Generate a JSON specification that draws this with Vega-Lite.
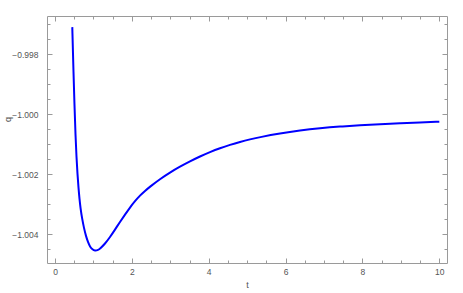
{
  "$schema": "https://vega.github.io/schema/vega-lite/v6.json",
  "autosize": {"type": "none"},
  "width": 400,
  "height": 247,
  "padding": {"left": 47, "top": 16, "right": 16, "bottom": 30},
  "background": "white",
  "config": {
    "view": {"stroke": null},
    "axis": {
      "domainColor": "#9a9a9a",
      "tickColor": "#9a9a9a",
      "labelColor": "#555555",
      "titleColor": "#555555",
      "labelFont": "Liberation Sans",
      "titleFont": "Liberation Sans",
      "labelFontSize": 8.5,
      "titleFontSize": 9,
      "titleFontWeight": "normal",
      "grid": false,
      "domainWidth": 1,
      "tickWidth": 1
    }
  },
  "data": {
    "values": [
      {"t": 0.450, "q": -0.997100},
      {"t": 0.476, "q": -0.998367},
      {"t": 0.507, "q": -0.999700},
      {"t": 0.533, "q": -1.000700},
      {"t": 0.559, "q": -1.001433},
      {"t": 0.585, "q": -1.002000},
      {"t": 0.612, "q": -1.002467},
      {"t": 0.638, "q": -1.002833},
      {"t": 0.664, "q": -1.003133},
      {"t": 0.703, "q": -1.003467},
      {"t": 0.755, "q": -1.003800},
      {"t": 0.807, "q": -1.004067},
      {"t": 0.859, "q": -1.004267},
      {"t": 0.911, "q": -1.004417},
      {"t": 0.976, "q": -1.004510},
      {"t": 1.041, "q": -1.004550},
      {"t": 1.106, "q": -1.004540},
      {"t": 1.171, "q": -1.004483},
      {"t": 1.301, "q": -1.004320},
      {"t": 1.431, "q": -1.004097},
      {"t": 1.561, "q": -1.003847},
      {"t": 1.691, "q": -1.003593},
      {"t": 1.822, "q": -1.003347},
      {"t": 1.952, "q": -1.003107},
      {"t": 2.082, "q": -1.002897},
      {"t": 2.212, "q": -1.002710},
      {"t": 2.342, "q": -1.002557},
      {"t": 2.472, "q": -1.002417},
      {"t": 2.732, "q": -1.002163},
      {"t": 2.992, "q": -1.001943},
      {"t": 3.253, "q": -1.001748},
      {"t": 3.513, "q": -1.001572},
      {"t": 3.773, "q": -1.001410},
      {"t": 4.033, "q": -1.001263},
      {"t": 4.294, "q": -1.001133},
      {"t": 4.554, "q": -1.001022},
      {"t": 4.814, "q": -1.000925},
      {"t": 5.074, "q": -1.000840},
      {"t": 5.334, "q": -1.000765},
      {"t": 5.855, "q": -1.000642},
      {"t": 6.375, "q": -1.000545},
      {"t": 6.896, "q": -1.000470},
      {"t": 7.416, "q": -1.000413},
      {"t": 7.937, "q": -1.000369},
      {"t": 8.457, "q": -1.000333},
      {"t": 8.977, "q": -1.000301},
      {"t": 9.498, "q": -1.000275},
      {"t": 10.0, "q": -1.000253}
    ]
  },
  "layer": [
    {
      "mark": {"type": "line", "color": "#0000ff", "strokeWidth": 2, "interpolate": "basis", "clip": true},
      "encoding": {
        "x": {
          "field": "t", "type": "quantitative",
          "scale": {"domain": [-0.208, 10.2], "nice": false, "zero": false},
          "axis": {
            "orient": "bottom", "title": "t", "titlePadding": 5, "format": ".0f",
            "values": [0, 0.5, 1, 1.5, 2, 2.5, 3, 3.5, 4, 4.5, 5, 5.5, 6, 6.5, 7, 7.5, 8, 8.5, 9, 9.5, 10],
            "labelExpr": "datum.value % 2 === 0 ? datum.label : ''",
            "tickSize": {"condition": {"test": "datum.value % 2 === 0", "value": -5}, "value": -3},
            "labelPadding": 9,
            "labelFlush": false
          }
        },
        "y": {
          "field": "q", "type": "quantitative",
          "scale": {"domain": [-1.00496, -0.99673], "nice": false, "zero": false},
          "axis": {
            "orient": "left", "title": "q", "titleX": -40, "titleY": 103, "titleAngle": 270, "titleAlign": "center", "titleBaseline": "middle", "format": ".3f",
            "values": [-1.0045, -1.004, -1.0035, -1.003, -1.0025, -1.002, -1.0015, -1.001, -1.0005, -1.0, -0.9995, -0.999, -0.9985, -0.998, -0.9975, -0.997],
            "labelExpr": "abs(round(datum.value * 10000)) % 20 === 0 ? datum.label : ''",
            "tickSize": {"condition": {"test": "abs(round(datum.value * 10000)) % 20 === 0", "value": -5}, "value": -3},
            "labelPadding": 14,
            "labelFlush": false
          }
        }
      }
    },
    {
      "mark": {"type": "line", "opacity": 0},
      "encoding": {
        "x": {
          "field": "t", "type": "quantitative",
          "axis": {
            "orient": "top", "title": null, "labels": false,
            "values": [0, 0.5, 1, 1.5, 2, 2.5, 3, 3.5, 4, 4.5, 5, 5.5, 6, 6.5, 7, 7.5, 8, 8.5, 9, 9.5, 10],
            "tickSize": {"condition": {"test": "datum.value % 2 === 0", "value": -5}, "value": -3}
          }
        },
        "y": {
          "field": "q", "type": "quantitative",
          "axis": {
            "orient": "right", "title": null, "labels": false,
            "values": [-1.0045, -1.004, -1.0035, -1.003, -1.0025, -1.002, -1.0015, -1.001, -1.0005, -1.0, -0.9995, -0.999, -0.9985, -0.998, -0.9975, -0.997],
            "tickSize": {"condition": {"test": "abs(round(datum.value * 10000)) % 20 === 0", "value": -5}, "value": -3}
          }
        }
      }
    }
  ],
  "resolve": {"axis": {"x": "independent", "y": "independent"}}
}
